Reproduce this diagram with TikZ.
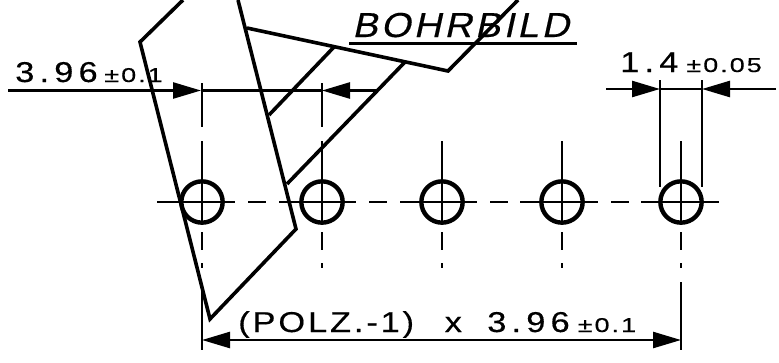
\documentclass[tikz,border=0pt]{standalone}
\usepackage{fontspec}
\usetikzlibrary{arrows.meta,positioning}
\newfontfamily\cadfont[LetterSpace=18,FakeStretch=1.2,FakeBold=0.4]{Liberation Sans}
\newfontfamily\cadtight[LetterSpace=10,FakeStretch=1.2,FakeBold=0.4]{Liberation Sans}
\newfontfamily\cadsmall[LetterSpace=10,FakeStretch=1.35,FakeBold=0.4]{Liberation Sans}
\newfontfamily\cadslant[LetterSpace=9,FakeStretch=1.1,FakeSlant=0.22,FakeBold=0.4]{Liberation Sans}
\newcommand{\tol}[1]{{\cadsmall\fontsize{15}{17}\selectfont #1}}

\begin{document}
\begin{tikzpicture}[x=0.75pt,y=-0.75pt,
    line/.style={line width=1.9pt},
    strike/.style={line width=2.7pt,line join=miter},
    hole/.style={circle,draw,line width=3.3pt,minimum size=31pt,inner sep=0pt},
    dimarrow/.style={line,-{Triangle[length=21pt,width=12pt]}},
    dimtext/.style={anchor=base west,inner sep=0pt,font=\cadfont\fontsize{21.5}{24}\selectfont}]
      \useasboundingbox (0,0) rectangle (779,362);

      % holes
      \foreach \name/\x in {h1/202,h2/322,h3/442,h4/562,h5/681}{
        \node[hole] (\name) at (\x,202) {};
        \draw[line] (\x,232) -- (\x,250);
        \draw[line] (\x,263) -- (\x,268);
        \draw[line] (\x,141) -- (\x,223);
      }
      \foreach \x in {202,322}
        \draw[line] (\x,83) -- (\x,127);

      % center line
      \foreach \a/\b in {157/235,248/266,279/356,369/387,400/477,490/508,520/598,611/629,641/719}
        \draw[line] (\a,202) -- (\b,202);

      % left dimension
      \coordinate (la) at (8,90.5);
      \coordinate (lb) at (201,90.5);
      \coordinate (lc) at (322,90.5);
      \coordinate (ld) at (378,90.5);
      \draw[dimarrow] (la) -- (lb);
      \draw[line] (lb) -- (lc);
      \draw[dimarrow] (ld) -- (lc);
      \node[dimtext] (ltext) at (15,82) {3.96\hspace{5pt}\tol{±0.1}};

      % right dimension
      \coordinate (ra) at (606,89);
      \coordinate (rb) at (660,89);
      \coordinate (rc) at (702,89);
      \coordinate (rd) at (776,89);
      \draw[line] (660,80) -- (660,187);
      \draw[line] (702,80) -- (702,187);
      \draw[dimarrow] (ra) -- (rb);
      \draw[line] (rb) -- (rc);
      \draw[dimarrow] (rd) -- (rc);
      \node[dimtext] (rtext) at (620,72) {1.4\hspace{6pt}\tol{±0.05}};

      % bottom dimension
      \coordinate (ba) at (202,340);
      \coordinate (bb) at (681,340);
      \draw[line] (202,283) -- (202,350);
      \draw[line] (681,282) -- (681,350);
      \draw[dimarrow,{Triangle[length=21pt,width=12pt]}-{Triangle[length=21pt,width=12pt]}] (ba) -- (bb);
      \node[dimtext] (btext) at (238,332) {{\cadtight (POLZ.-1)}\hspace{23pt}x\hspace{19pt}3.96\hspace{6pt}\tol{±0.1}};

      % title
      \node[anchor=base west,inner sep=0pt,font=\cadslant\fontsize{26}{28}\selectfont] (title) at (352,37) {BOHRBILD};
      \draw[line] (349,43.5) -- (577,43.5);

      % strike out
      \draw[strike] (183,0) -- (140,42) -- (210,319) -- (296,229) -- (238,0);
      \draw[strike] (247,28) -- (448,71) -- (518,0);
      \draw[strike] (334,47) -- (269,115);
      \draw[strike] (405,62) -- (287,184);
    \end{tikzpicture}
\end{document}
